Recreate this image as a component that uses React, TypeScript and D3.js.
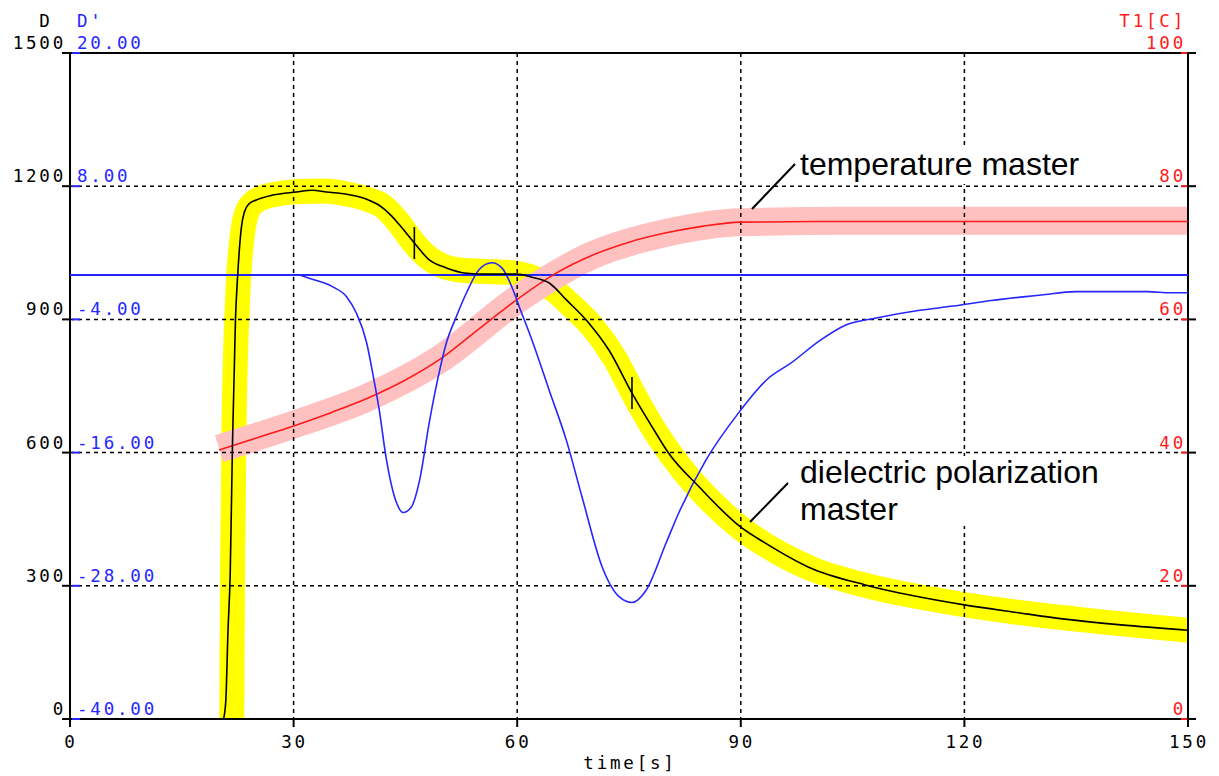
import React from "react";
import * as d3 from "d3";

// dielectric polarization D (measured)
const blackT = [20.6, 20.9, 21.2, 21.5, 21.8, 22.2, 22.5, 23.0, 23.4, 24.0, 25.0, 27.2, 30.4, 32.5, 34.4, 37.1, 39.0, 40.2, 41.2, 42.2, 43.2, 44.2, 46.2, 48.2, 50.5, 53.2, 55.8, 59.9, 62.0, 64.3, 66.6, 69.6, 72.3, 75.4, 78.1, 80.3, 84.4, 90.0, 93.3, 99.1, 106.7, 113, 120, 127, 133.5, 141, 150];
const blackD = [0, 40, 200, 330, 620, 900, 1000, 1108, 1142, 1160, 1169, 1180, 1187, 1191, 1187, 1182, 1175, 1168, 1160, 1148, 1132, 1113, 1072, 1034, 1016, 1004, 1002, 1002, 995, 982, 944, 892, 831, 734, 658, 599, 523, 432, 396, 342, 302, 278, 257, 240, 225, 212, 200];

// dielectric polarization master (yellow band)
const yellowT = [21.7, 21.8, 22.0, 22.5, 23.2, 24, 25.5, 28, 31, 34, 37, 40, 42, 44, 46, 48, 50, 53, 56, 59, 61, 63, 65, 67, 70, 73, 76, 79, 82, 86, 90, 95, 100, 107, 115, 125, 135, 150];
const yellowD = [0, 300, 650, 950, 1100, 1150, 1172, 1183, 1188, 1189, 1183, 1170, 1155, 1120, 1075, 1040, 1020, 1010, 1008, 1006, 1000, 988, 965, 935, 885, 815, 720, 635, 565, 490, 430, 375, 335, 300, 272, 245, 225, 200];

// temperature T1 (measured)
const redT = [20, 25, 30, 35, 40, 45, 50, 55, 60, 65, 70, 75, 80, 85, 90, 100, 110, 120, 130, 140, 150];
const redV = [40.4, 42.2, 44.0, 46.0, 48.2, 50.9, 54.3, 58.7, 63.0, 66.8, 69.6, 71.6, 73.0, 74.0, 74.6, 74.7, 74.7, 74.7, 74.7, 74.7, 74.7];

// temperature master (pink band)
const pinkT = [20, 30, 40, 50, 60, 70, 80, 90, 105, 120, 150];
const pinkV = [40.6, 44.2, 48.3, 54.3, 63.0, 69.6, 73.0, 74.6, 74.8, 74.8, 74.8];

// derivative D'
const blueT = [30.8, 32.1, 35.2, 37.1, 38.4, 39.8, 40.6, 41.5, 42.4, 43.8, 44.7, 45.8, 46.9, 48.2, 49.3, 50.5, 51.8, 53.2, 54.9, 56.6, 58.0, 59.3, 60.3, 62.0, 64.3, 66.6, 68.7, 71.4, 73.7, 75.4, 77.3, 80.0, 81.7, 85.3, 89.5, 93.7, 96.8, 100.4, 104.1, 108.0, 113.8, 118.5, 123.6, 130.3, 134.9, 144.6, 147.6, 150];
const blueV = [0, -0.3, -1.05, -1.95, -3.4, -6.1, -8.8, -12.2, -16.4, -20.5, -21.4, -20.9, -18.5, -13.3, -9.5, -6.1, -3.8, -1.6, 0.5, 1.1, 0.6, -1.1, -2.9, -5.9, -10.4, -14.9, -20, -26.3, -29, -29.5, -28.4, -24.1, -21.4, -16.7, -12.6, -9.3, -7.9, -6.0, -4.5, -3.9, -3.2, -2.8, -2.3, -1.8, -1.5, -1.5, -1.6, -1.6];

// small vertical markers on the D curve
const markerT = [46.2, 75.4];
const markerD = [1072, 734];

const xTicks = [0, 30, 60, 90, 120, 150];
const dTicks = [0, 300, 600, 900, 1200, 1500];
const dpTicks = [-40, -28, -16, -4, 8, 20];
const tTicks = [0, 20, 40, 60, 80, 100];

const W = 1219;
const H = 776;
const L = 70, R = 1188, T = 53, B = 719;

const mono = "'DejaVu Sans Mono', monospace";
const sans = "'Liberation Sans', Arial, sans-serif";
const BLUE = "#2626ff";
const RED = "#ff1a1a";

const App = () => {
  const x = d3.scaleLinear().domain([0, 150]).range([L, R]);
  const yD = d3.scaleLinear().domain([0, 1500]).range([B, T]);
  const yDp = d3.scaleLinear().domain([-40, 20]).range([B, T]);
  const yT = d3.scaleLinear().domain([0, 100]).range([B, T]);

  const mk = (ts: number[], vs: number[], ys: d3.ScaleLinear<number, number>) =>
    d3.line<number>()
      .x((_, i) => x(ts[i]))
      .y((v) => ys(v))
      .curve(d3.curveMonotoneX)(vs) || "";

  const grid = { stroke: "#000", strokeWidth: 1.5, strokeDasharray: "4,4" };

  return (
    <div style={{ position: "fixed", left: 0, top: 0 }}>
      <svg width={W} height={H} style={{ display: "block", background: "#fff" }}>
        <defs>
          <clipPath id="plot">
            <rect x={L} y={T} width={R - L} height={B - T} />
          </clipPath>
        </defs>

        {/* master bands */}
        <g clipPath="url(#plot)" fill="none">
          <path d={mk(yellowT, yellowD, yD)} stroke="#ffff00" strokeWidth={25} />
          <path d={mk(pinkT, pinkV, yT)} stroke="#ffc0c0" strokeWidth={28} />
        </g>

        {/* grid */}
        <g>
          {dTicks.slice(1, -1).map((v) => (
            <line key={"h" + v} x1={L} x2={R} y1={yD(v)} y2={yD(v)} {...grid} />
          ))}
          {xTicks.slice(1, -1).map((v) => (
            <line key={"v" + v} x1={x(v)} x2={x(v)} y1={T} y2={B} {...grid} />
          ))}
        </g>

        {/* frame and ticks */}
        <g stroke="#000" strokeWidth={2}>
          <line x1={L - 8} x2={R} y1={T} y2={T} />
          <line x1={L - 8} x2={R} y1={B} y2={B} />
          <line x1={L} x2={L} y1={T} y2={B + 8} />
          <line x1={R} x2={R} y1={T} y2={B + 8} />
          {dTicks.map((v) => (
            <line key={"lt" + v} x1={L - 8} x2={L} y1={yD(v)} y2={yD(v)} />
          ))}
          {xTicks.map((v) => (
            <line key={"bt" + v} x1={x(v)} x2={x(v)} y1={B} y2={B + 8} />
          ))}
          {tTicks.map((v) => (
            <line key={"rt" + v} x1={R} x2={R + 8} y1={yT(v)} y2={yT(v)} />
          ))}
        </g>
        <g strokeWidth={2}>
          {dpTicks.map((v) => (
            <line key={"bl" + v} x1={L + 2} x2={L + 10} y1={yDp(v)} y2={yDp(v)} stroke={BLUE} />
          ))}
          {tTicks.map((v) => (
            <line key={"rd" + v} x1={R - 7} x2={R - 1} y1={yT(v)} y2={yT(v)} stroke={RED} />
          ))}
        </g>

        {/* annotation boxes */}
        <rect x={795} y={146} width={290} height={38} fill="#fff" />
        <rect x={795} y={456} width={310} height={70} fill="#fff" />

        {/* curves */}
        <g clipPath="url(#plot)" fill="none">
          <line x1={L} x2={R} y1={yDp(0)} y2={yDp(0)} stroke={BLUE} strokeWidth={2} />
          <path d={mk(redT, redV, yT)} stroke={RED} strokeWidth={1.6} />
          <path d={mk(blueT, blueV, yDp)} stroke={BLUE} strokeWidth={1.6} />
          <path d={mk(blackT, blackD, yD)} stroke="#000" strokeWidth={1.6} />
          {markerT.map((t, i) => (
            <line key={"m" + i} x1={x(t)} x2={x(t)} y1={yD(markerD[i]) - 16} y2={yD(markerD[i]) + 16} stroke="#000" strokeWidth={1.6} />
          ))}
        </g>

        {/* axis labels */}
        <g fontFamily={mono} fontSize={17.5} letterSpacing={2.8}>
          <text x={46} y={27} textAnchor="middle" fill="#000">D</text>
          <text x={77} y={27} fill={BLUE}>D'</text>
          <text x={1186} y={27} textAnchor="end" fill={RED}>T1[C]</text>
          {dTicks.map((v) => (
            <text key={"dl" + v} x={66} y={yD(v) - 4} textAnchor="end" fill="#000">{v}</text>
          ))}
          {dpTicks.map((v) => (
            <text key={"dpl" + v} x={77} y={yDp(v) - 4} fill={BLUE}>{d3.format(".2f")(v).replace("−", "-")}</text>
          ))}
          {tTicks.map((v) => (
            <text key={"tl" + v} x={1186} y={yT(v) - 4} textAnchor="end" fill={RED}>{v}</text>
          ))}
          {xTicks.map((v) => (
            <text key={"xl" + v} x={x(v) + 1} y={748} textAnchor="middle" fill="#000">{v}</text>
          ))}
          <text x={630} y={769} textAnchor="middle" fill="#000">time[s]</text>
        </g>

        {/* annotations */}
        <g fontFamily={sans} fontSize={32} fill="#000">
          <text x={800} y={175}>temperature master</text>
          <text x={800} y={483}>dielectric polarization</text>
          <text x={800} y={520}>master</text>
        </g>
        <g stroke="#000" strokeWidth={2}>
          <line x1={752} y1={209} x2={795} y2={164} />
          <line x1={750} y1={522} x2={788} y2={483} />
        </g>
      </svg>
    </div>
  );
};

export default App;
